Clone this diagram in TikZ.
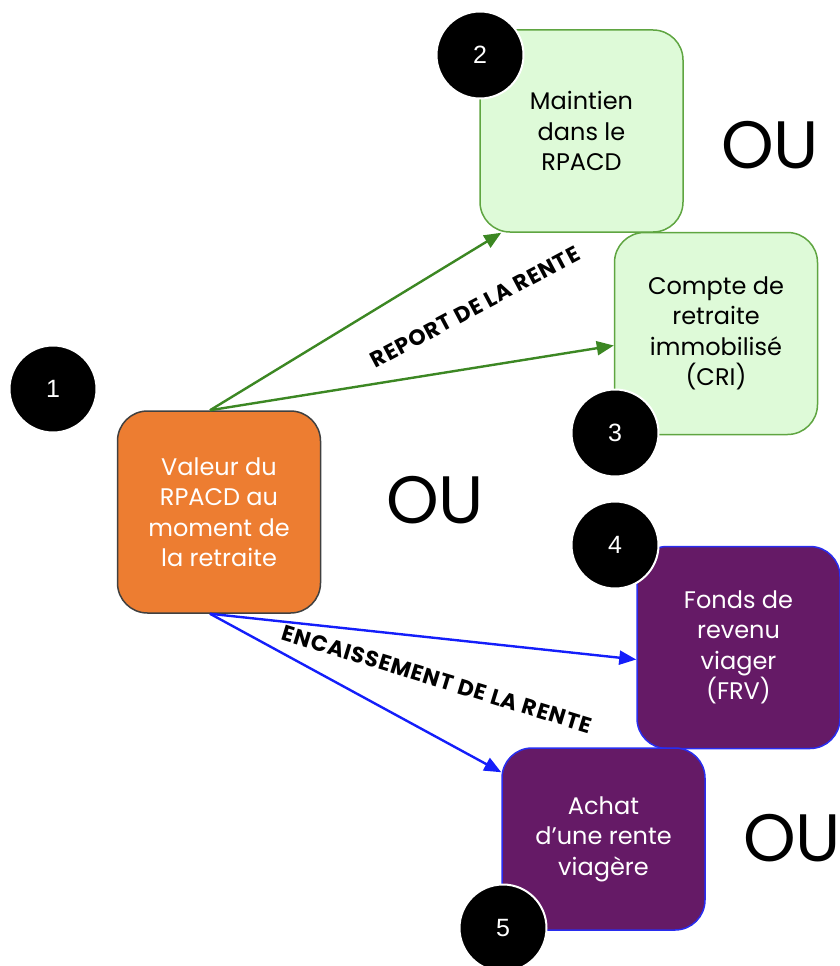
\documentclass[tikz,border=0pt]{standalone}
\usepackage{fontspec}
\setmainfont{Poppins}
\newfontfamily\digitfont{Liberation Sans}
\usetikzlibrary{arrows.meta, positioning}

\definecolor{keepfill}{RGB}{222,250,216}
\definecolor{keepline}{RGB}{95,165,65}
\definecolor{keeparrow}{RGB}{60,135,35}
\definecolor{cashfill}{RGB}{101,26,102}
\definecolor{cashline}{RGB}{40,45,240}
\definecolor{casharrow}{RGB}{20,30,250}
\definecolor{startfill}{RGB}{237,125,49}

\tikzset{
  choice/.style={rectangle, rounded corners=30pt, minimum width=203pt,
    minimum height=202pt, align=center, line width=1.5pt,
    font=\fontsize{24}{30.5}\selectfont},
  keepbox/.style={choice, fill=keepfill, draw=keepline, text=black},
  cashbox/.style={choice, fill=cashfill, draw=cashline, text=white},
  numdot/.style={circle, fill=black, draw=white, line width=2pt,
    minimum size=87pt, text=white, font=\digitfont\fontsize{25}{28}\selectfont},
  orword/.style={font=\fontsize{67}{67}\selectfont},
  pathtag/.style={font=\bfseries\fontsize{22}{24}\selectfont\addfontfeature{LetterSpace=4}},
  keeparr/.style={draw=keeparrow, line width=2.4pt,
    -{Triangle[length=17pt,width=14pt]}},
  casharr/.style={draw=casharrow, line width=2.4pt,
    -{Triangle[length=17pt,width=14pt]}}
}

\begin{document}
\begin{tikzpicture}[x=1pt, y=-1pt]
  \useasboundingbox (0,0) rectangle (840,966);
  % Start value
  \node[choice, fill=startfill, draw=black!75, text=white] (valeur) at (219,512)
    {Valeur du\\RPACD au\\moment de\\la retraite};
  % Deferral options
  \node[keepbox] (maintien) at (581.5,131) {Maintien\\dans le\\RPACD};
  \node[keepbox] (cri) at (716,333.5) {Compte de\\retraite\\immobilisé\\(CRI)};
  % Cash-out options
  \node[cashbox] (frv) at (738.5,647.5) {Fonds de\\revenu\\viager\\(FRV)};
  \node[cashbox, minimum height=182pt] (rente) at (603.5,839)
    {Achat\\d'une rente\\viagère};
  % Numbers
  \node[numdot] (n1) at (53,389) {1};
  \node[numdot] (n2) at (480,55) {2};
  \node[numdot] (n3) at (615,433) {3};
  \node[numdot] (n4) at (615,545) {4};
  \node[numdot] (n5) at (503,928) {5};
  % OU
  \node[orword] (ou1) at (770,145) {OU};
  \node[orword] (ou2) at (435,500) {OU};
  \node[orword] (ou3) at (792,838) {OU};
  % Arrows
  \draw[keeparr] ([xshift=-9pt]valeur.north) -- ([xshift=22pt]maintien.south west);
  \draw[keeparr] ([xshift=-9pt]valeur.north) -- ([yshift=-12pt]cri.west);
  \draw[casharr] ([xshift=-9pt]valeur.south) -- ([yshift=-12pt]frv.west);
  \draw[casharr] ([xshift=-9pt]valeur.south) -- ([yshift=-25pt]rente.north west);
  % Labels
  \node[pathtag, rotate=28] (report) at (475,307) {REPORT DE LA RENTE};
  \node[pathtag, rotate=-17] (encaisse) at (437,679) {ENCAISSEMENT DE LA RENTE};
\end{tikzpicture}
\end{document}
